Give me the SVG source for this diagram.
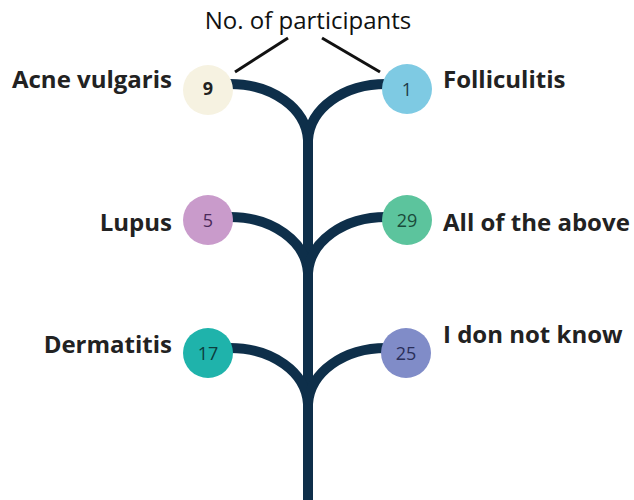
<svg xmlns="http://www.w3.org/2000/svg" width="634" height="500" viewBox="0 0 634 500">
<style>
.lbl{font-family:"Open Sans","Liberation Sans",sans-serif;font-weight:700;font-size:24px;fill:#222}
.num{font-family:"Open Sans","Liberation Sans",sans-serif;font-size:18px;text-anchor:middle;dominant-baseline:central}
.br{fill:none;stroke:#0e2f4a;stroke-width:10}
.ptr{stroke:#111;stroke-width:3;fill:none}
.title{font-family:"Open Sans","Liberation Sans",sans-serif;font-size:24px;fill:#111;text-anchor:middle}
</style>
<rect width="634" height="500" fill="#fff"/>
<g id="connectors">
<line class="br" x1="308" y1="130" x2="308" y2="500"/>
<path class="br" d="M230 84 C272 84 306 108 308 140"/>
<path class="br" d="M386 84 C344 84 310 108 308 140"/>
<path class="br" d="M230 217 C272 217 306 241 308 273"/>
<path class="br" d="M386 217 C344 217 310 241 308 273"/>
<path class="br" d="M230 348 C272 348 306 372 308 404"/>
<path class="br" d="M386 348 C344 348 310 372 308 404"/>
<line class="ptr" x1="288" y1="38" x2="235" y2="72"/>
<line class="ptr" x1="322" y1="38" x2="380" y2="72"/>
</g>
<g id="title"><text class="title" x="308" y="29">No. of participants</text></g>
<g id="acne">
<circle cx="208" cy="90" r="25" fill="#f6f2e1"/>
<text class="num" x="208" y="88" fill="#222" font-weight="700">9</text>
<text class="lbl" x="172" y="88" text-anchor="end">Acne vulgaris</text>
</g>
<g id="folliculitis">
<circle cx="407" cy="89" r="25" fill="#7ecae3"/>
<text class="num" x="407" y="89" fill="#1d3a4a">1</text>
<text class="lbl" x="443" y="88">Folliculitis</text>
</g>
<g id="lupus">
<circle cx="208" cy="220" r="25" fill="#c99bcb"/>
<text class="num" x="208" y="220" fill="#4a2a5a">5</text>
<text class="lbl" x="172" y="231" text-anchor="end">Lupus</text>
</g>
<g id="all">
<circle cx="407" cy="220" r="25" fill="#5cc49d"/>
<text class="num" x="407" y="220" fill="#1a4a3a">29</text>
<text class="lbl" x="443" y="231">All of the above</text>
</g>
<g id="dermatitis">
<circle cx="208" cy="353" r="25" fill="#1fb3ab"/>
<text class="num" x="208" y="353" fill="#0d3d3d">17</text>
<text class="lbl" x="172" y="353" text-anchor="end">Dermatitis</text>
</g>
<g id="dontknow">
<circle cx="406" cy="353" r="25" fill="#808cc8"/>
<text class="num" x="406" y="353" fill="#2a2f5a">25</text>
<text class="lbl" x="443" y="343">I don not know</text>
</g>
</svg>
